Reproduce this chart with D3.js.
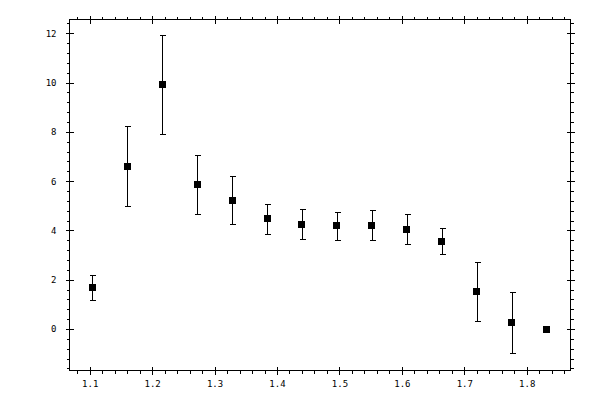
<!DOCTYPE html>
<html>
<head>
<meta charset="utf-8">
<script src="https://cdn.jsdelivr.net/npm/d3@7"></script>
<style>
  body { margin: 0; background: #fff; }
  svg { display: block; }
  .tick text { font-family: 'DejaVu Sans Mono', monospace; font-size: 9px; fill: #000; }
  line, path, rect { shape-rendering: crispEdges; }
</style>
</head>
<body>
<svg id="chart" width="600" height="400"></svg>
<script>
// Measured points with symmetric y error bars.
const X_VALUES = [1.104, 1.160, 1.216, 1.272, 1.328, 1.384, 1.440, 1.496, 1.552, 1.608, 1.664, 1.720, 1.776, 1.832];
const Y_VALUES = [1.69, 6.60, 9.92, 5.88, 5.23, 4.47, 4.25, 4.18, 4.22, 4.05, 3.56, 1.52, 0.27, 0.0];
const Y_ERRORS = [0.50, 1.62, 2.00, 1.20, 0.97, 0.62, 0.61, 0.55, 0.59, 0.60, 0.53, 1.21, 1.24, 0];

const X_TICKS = [1.1, 1.2, 1.3, 1.4, 1.5, 1.6, 1.7, 1.8];
const X_TICK_LABELS = ['1.1', '1.2', '1.3', '1.4', '1.5', '1.6', '1.7', '1.8'];
const Y_TICKS = [0, 2, 4, 6, 8, 10, 12];
const Y_TICK_LABELS = ['0', '2', '4', '6', '8', '10', '12'];

const LEFT = 69.5, RIGHT = 570.5, TOP = 19.5, BOTTOM = 370.5;
const MAJOR = 4; // major ticks cross the frame by this much each way
const MINOR = 3; // minor ticks point outward
const MARK = 7; // square marker side
const CAP = 5; // error bar cap width

const svg = d3.select('#chart');

const x = d3.scaleLinear().domain([1.0676, 1.8702]).range([LEFT, RIGHT]);
const y = d3.scaleLinear().domain([-1.684, 12.56]).range([BOTTOM, TOP]);

// minor ticks every 0.02 on x, every 0.4 on y (skip majors)
const near = (v, list) => list.some((t) => Math.abs(t - v) < 1e-6);
const xMinor = d3.range(1.08, 1.87, 0.02).map((v) => +v.toFixed(2)).filter((v) => !near(v, X_TICKS));
const yMinor = d3.range(-1.6, 12.6, 0.4).map((v) => +v.toFixed(1)).filter((v) => !near(v, Y_TICKS));

function addAxis(axisFn, scale, pos, transform, major, labels, pad) {
  const g = svg.append('g').attr('transform', transform);
  const ax = axisFn(scale).tickValues(major).tickSizeOuter(0);
  if (labels) {
    ax.tickSize(MAJOR).tickPadding(pad).tickFormat((d, i) => labels[i]);
  } else {
    ax.tickSize(MAJOR).tickFormat('');
  }
  g.call(ax);
  g.select('.domain').remove();
  // make major ticks straddle the frame line
  g.selectAll('.tick line').each(function () {
    const l = d3.select(this);
    if (pos === 'h') l.attr('y1', -MAJOR).attr('y2', MAJOR);
    else l.attr('x1', -MAJOR).attr('x2', MAJOR);
  });
  return g;
}

function addMinor(axisFn, scale, values, transform) {
  const g = svg.append('g').attr('transform', transform);
  g.call(axisFn(scale).tickValues(values).tickSize(MINOR).tickSizeOuter(0).tickFormat(''));
  g.select('.domain').remove();
}

// frame
svg.append('rect')
  .attr('x', LEFT).attr('y', TOP)
  .attr('width', RIGHT - LEFT).attr('height', BOTTOM - TOP)
  .attr('fill', 'none').attr('stroke', '#000');

addAxis(d3.axisBottom, x, 'h', `translate(0,${BOTTOM})`, X_TICKS, X_TICK_LABELS, 6);
addAxis(d3.axisTop, x, 'h', `translate(0,${TOP})`, X_TICKS, null);
addAxis(d3.axisLeft, y, 'v', `translate(${LEFT},0)`, Y_TICKS, Y_TICK_LABELS, 9);
addAxis(d3.axisRight, y, 'v', `translate(${RIGHT},0)`, Y_TICKS, null);

addMinor(d3.axisBottom, x, xMinor, `translate(0,${BOTTOM})`);
addMinor(d3.axisTop, x, xMinor, `translate(0,${TOP})`);
addMinor(d3.axisLeft, y, yMinor, `translate(${LEFT},0)`);
addMinor(d3.axisRight, y, yMinor, `translate(${RIGHT},0)`);

const points = X_VALUES.map((v, i) => ({ x: v, y: Y_VALUES[i], e: Y_ERRORS[i] }));
const px = (d) => Math.round(x(d.x)) + 0.5;

// error bars
const bars = svg.append('g').attr('stroke', '#000').attr('stroke-width', 1.2)
  .selectAll('g').data(points.filter((d) => d.e > 0)).join('g');
bars.append('line')
  .attr('x1', px).attr('x2', px)
  .attr('y1', (d) => y(d.y + d.e)).attr('y2', (d) => y(d.y - d.e));
bars.append('line')
  .attr('x1', (d) => px(d) - CAP / 2 - 0.5).attr('x2', (d) => px(d) + CAP / 2 + 0.5)
  .attr('y1', (d) => Math.round(y(d.y + d.e)) + 0.5).attr('y2', (d) => Math.round(y(d.y + d.e)) + 0.5);
bars.append('line')
  .attr('x1', (d) => px(d) - CAP / 2 - 0.5).attr('x2', (d) => px(d) + CAP / 2 + 0.5)
  .attr('y1', (d) => Math.round(y(d.y - d.e)) + 0.5).attr('y2', (d) => Math.round(y(d.y - d.e)) + 0.5);

// square markers
svg.append('g').selectAll('rect').data(points).join('rect')
  .attr('x', (d) => Math.round(x(d.x) - MARK / 2))
  .attr('y', (d) => Math.round(y(d.y) - MARK / 2))
  .attr('width', MARK).attr('height', MARK)
  .attr('fill', '#000');
</script>
</body>
</html>
